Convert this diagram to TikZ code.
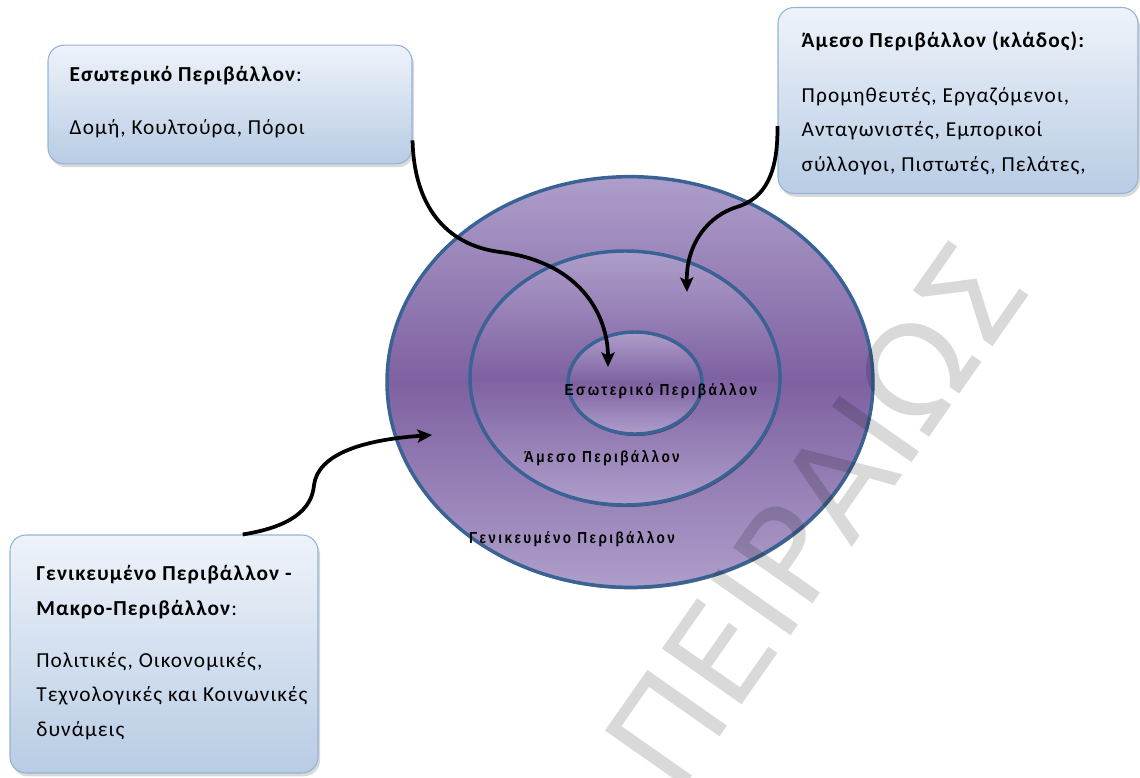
\documentclass[tikz,border=0pt]{standalone}
\usepackage{fontspec}
\setmainfont[LetterSpace=5]{Carlito}
\newfontfamily\ringfont[FakeStretch=0.85,LetterSpace=15]{Liberation Sans}
\newfontfamily\markfont{DejaVu Sans}
\usetikzlibrary{arrows.meta,shapes.geometric,shadows}

\definecolor{boxtop}{RGB}{238,243,250}
\definecolor{boxbot}{RGB}{184,204,228}
\definecolor{boxline}{RGB}{149,179,215}
\definecolor{lavlight}{RGB}{174,158,202}
\definecolor{lavdark}{RGB}{126,97,161}
\definecolor{ringline}{RGB}{58,98,148}

\tikzset{
  envbox/.style={rounded corners=12pt, draw=boxline, line width=0.8pt, top color=boxtop, bottom color=boxbot,
    drop shadow={shadow xshift=1.5pt, shadow yshift=-2.5pt, opacity=0.3}, inner sep=0pt},
  boxtext/.style={anchor=west, align=left, inner sep=0pt, font=\fontsize{16}{26}\selectfont},
  ring/.style={ellipse, draw=ringline, line width=2.6pt, inner sep=0pt, top color=lavlight, bottom color=lavlight,
    middle color=lavdark, drop shadow={shadow xshift=0.8pt, shadow yshift=-1.5pt, opacity=0.5, fill=black}},
  ringlabel/.style={font=\ringfont\bfseries\fontsize{12}{14}\selectfont, inner sep=0pt},
  envarrow/.style={line width=2.8pt, black, -{Stealth[length=11pt,width=10pt,inset=2.5pt]}},
}

\begin{document}
\begin{tikzpicture}[x=0.75pt,y=-0.75pt]
\path[use as bounding box, clip] (0,0) rectangle (1140,778);

%Ellipsen
\node[ring, minimum width=364.5pt, minimum height=308pt] (gen) at (630,382) {};
\node[ring, minimum width=232.5pt, minimum height=190.5pt] (task) at (625,378) {};
\node[ring, minimum width=100.5pt, minimum height=76.5pt] (int) at (635,383) {};

%Beschriftung der Ellipsen
\node[ringlabel] (intlbl) at (661,391) {Εσωτερικό Περιβάλλον};
\node[ringlabel] (tasklbl) at (602,458) {Άμεσο Περιβάλλον};
\node[ringlabel] (genlbl) at (572,539) {Γενικευμένο Περιβάλλον};

%Kaesten
\node[envbox, minimum width=273pt, minimum height=89pt] (intbox) at (230,104.5) {};
\node[envbox, minimum width=270pt, minimum height=139.5pt] (taskbox) at (958,100.5) {};
\node[envbox, minimum width=231pt, minimum height=178.5pt] (genbox) at (164,654) {};

%Pfeile
\coordinate (intend) at (608,367);
\coordinate (taskend) at (687,292);
\coordinate (genend) at (432,435);
\draw[envarrow] ([yshift=18pt]intbox.south east) .. controls (414,205) and (445,245) .. (500,252)
  .. controls (585,263) and (608,320) .. (intend);
\draw[envarrow] ([yshift=51pt]taskbox.south west) .. controls (778,172) and (766,198) .. (737,207)
  .. controls (710,215) and (686,242) .. (taskend);
\draw[envarrow] ([xshift=59pt]genbox.north) .. controls (290,527) and (312,510) .. (314,485)
  .. controls (318,455) and (360,440) .. (genend);

%Text der Kaesten
\node[boxtext] (inttext) at ([xshift=16.5pt,yshift=2pt]intbox.west)
  {\textbf{Εσωτερικό Περιβάλλον}:\\[14pt]Δομή, Κουλτούρα, Πόροι};
\node[boxtext] (tasktext) at ([xshift=18pt,yshift=-2pt]taskbox.west)
  {\textbf{Άμεσο Περιβάλλον (κλάδος):}\\[15pt]Προμηθευτές, Εργαζόμενοι,\\Ανταγωνιστές, Εμπορικοί\\σύλλογοι, Πιστωτές, Πελάτες,};
\node[boxtext] (gentext) at ([xshift=20pt,yshift=1pt]genbox.west)
  {\textbf{Γενικευμένο Περιβάλλον -}\\\textbf{Μακρο-Περιβάλλον}:\\[13pt]Πολιτικές, Οικονομικές,\\Τεχνολογικές και Κοινωνικές\\δυνάμεις};

%Wasserzeichen
\node[font=\markfont\fontsize{100}{100}\selectfont, text=black, text opacity=0.15, rotate=55] (mark) at (815,515) {ΠΕΙΡΑΙΩΣ};
\end{tikzpicture}
\end{document}
